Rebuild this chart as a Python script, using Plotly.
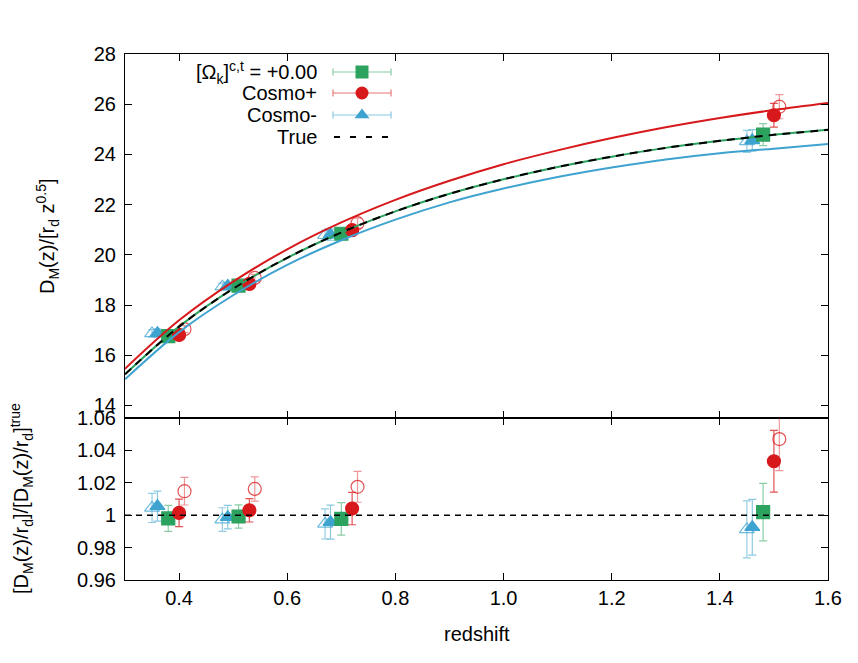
import plotly.graph_objects as go
from plotly.subplots import make_subplots

# model curves: D_M(z)/[r_d z^0.5]
Z_CURVE = [0.3, 0.4, 0.5, 0.6, 0.7, 0.8, 0.9, 1.0, 1.1, 1.2, 1.3, 1.4, 1.5, 1.6]
TRUE_CURVE = [15.24, 17.14, 18.65, 19.88, 20.89, 21.73, 22.43, 23.01, 23.50,
              23.91, 24.26, 24.54, 24.78, 24.98]
FLAT_CURVE = [15.24, 17.14, 18.65, 19.88, 20.89, 21.73, 22.43, 23.01, 23.50,
              23.91, 24.26, 24.54, 24.78, 24.98]
PLUS_CURVE = [15.46, 17.39, 18.93, 20.22, 21.29, 22.19, 22.95, 23.61, 24.16,
              24.65, 25.08, 25.45, 25.77, 26.05]
MINUS_CURVE = [15.04, 16.92, 18.39, 19.60, 20.58, 21.40, 22.09, 22.64, 23.10,
               23.48, 23.80, 24.05, 24.23, 24.41]

# measurements (plotted redshift, slightly shifted per series)
Z_FLAT = [0.38, 0.51, 0.70, 1.48]
Z_PLUS = [0.40, 0.53, 0.72, 1.50]
Z_PLUS_OPEN = [0.41, 0.54, 0.73, 1.51]
Z_MINUS = [0.36, 0.49, 0.68, 1.46]
Z_MINUS_OPEN = [0.35, 0.48, 0.67, 1.45]

# top panel values
DM_FLAT = [16.76, 18.77, 20.84, 24.79]
DM_FLAT_ERR = [0.13, 0.14, 0.21, 0.44]
DM_PLUS = [16.81, 18.84, 20.98, 25.56]
DM_PLUS_ERR = [0.14, 0.14, 0.21, 0.47]
DM_PLUS_OPEN = [17.04, 19.08, 21.26, 25.90]
DM_PLUS_OPEN_ERR = [0.14, 0.14, 0.20, 0.48]
DM_MINUS = [16.88, 18.76, 20.80, 24.56]
DM_MINUS_ERR = [0.16, 0.14, 0.22, 0.43]
DM_MINUS_OPEN = [16.87, 18.73, 20.78, 24.52]
DM_MINUS_OPEN_ERR = [0.15, 0.14, 0.19, 0.44]

# bottom panel ratios to truth
R_FLAT = [0.998, 0.9992, 0.9977, 1.0019]
R_FLAT_ERR = [0.008, 0.0072, 0.010, 0.0177]
R_PLUS = [1.0014, 1.003, 1.0041, 1.0333]
R_PLUS_ERR = [0.0085, 0.0072, 0.010, 0.019]
R_PLUS_OPEN = [1.0148, 1.0162, 1.0175, 1.047]
R_PLUS_OPEN_ERR = [0.0085, 0.0075, 0.0095, 0.0195]
R_MINUS = [1.0056, 0.9988, 0.9957, 0.9926]
R_MINUS_ERR = [0.0093, 0.0072, 0.0105, 0.0172]
R_MINUS_OPEN = [1.0045, 0.9973, 0.9946, 0.9912]
R_MINUS_OPEN_ERR = [0.009, 0.0073, 0.0093, 0.0176]
Z_UNITY = [0.3, 1.6]
R_UNITY = [1.0, 1.0]

LEGEND_LABELS = ["[Ω<sub>k</sub>]<sup>c,t</sup> = +0.00", "Cosmo+", "Cosmo-", "True"]

GREEN = "#2ca25f"
RED = "#d7191c"
BLUE = "#3ea3cf"
FONT = "Liberation Sans, Arial, sans-serif"
FS = 20

fig = make_subplots(rows=2, cols=1, shared_xaxes=True,
                    row_heights=[0.692, 0.308], vertical_spacing=0)


def pts(x, y, err, color, symbol, ecolor, row):
    fig.add_trace(go.Scatter(
        x=x, y=y, mode="markers",
        marker=dict(symbol=symbol, size=13, color=color,
                    line=dict(width=1.2, color=color)),
        error_y=dict(type="data", array=err, color=ecolor, thickness=1.2, width=4),
        showlegend=False, hoverinfo="skip",
    ), row=row, col=1)


# open (shifted) markers first, then filled
series = [
    (Z_MINUS_OPEN, DM_MINUS_OPEN, DM_MINUS_OPEN_ERR, R_MINUS_OPEN, R_MINUS_OPEN_ERR,
     "rgba(62,163,207,0.75)", "triangle-up-open", "rgba(62,163,207,0.55)"),
    (Z_PLUS_OPEN, DM_PLUS_OPEN, DM_PLUS_OPEN_ERR, R_PLUS_OPEN, R_PLUS_OPEN_ERR,
     "rgba(215,25,28,0.75)", "circle-open", "rgba(215,25,28,0.45)"),
    (Z_MINUS, DM_MINUS, DM_MINUS_ERR, R_MINUS, R_MINUS_ERR,
     BLUE, "triangle-up", "rgba(62,163,207,0.6)"),
    (Z_FLAT, DM_FLAT, DM_FLAT_ERR, R_FLAT, R_FLAT_ERR,
     GREEN, "square", "rgba(44,162,95,0.55)"),
    (Z_PLUS, DM_PLUS, DM_PLUS_ERR, R_PLUS, R_PLUS_ERR,
     RED, "circle", "rgba(215,25,28,0.75)"),
]
for z, dm, dme, r, re, col, sym, ecol in series:
    pts(z, dm, dme, col, sym, ecol, 1)
    pts(z, r, re, col, sym, ecol, 2)

# curves on top
for y, col in [(FLAT_CURVE, GREEN), (PLUS_CURVE, RED), (MINUS_CURVE, BLUE)]:
    fig.add_trace(go.Scatter(x=Z_CURVE, y=y, mode="lines", line_shape="spline",
                             line=dict(color=col, width=2),
                             showlegend=False, hoverinfo="skip"), row=1, col=1)
fig.add_trace(go.Scatter(x=Z_CURVE, y=TRUE_CURVE, mode="lines", line_shape="spline",
                         line=dict(color="black", width=2, dash="8px,6px"),
                         showlegend=False, hoverinfo="skip"), row=1, col=1)
fig.add_trace(go.Scatter(x=Z_UNITY, y=R_UNITY, mode="lines",
                         line=dict(color="black", width=1.5, dash="6px,5px"),
                         showlegend=False, hoverinfo="skip"), row=2, col=1)

# gnuplot-style key: text on the left, sample on the right (pixel-coordinate overlay)
key_rows = [72, 93, 115, 137]
key_styles = [(GREEN, "square", "rgba(44,162,95,0.55)"),
              (RED, "circle", "rgba(215,25,28,0.6)"),
              (BLUE, "triangle-up", "rgba(62,163,207,0.6)")]
for yk, (col, sym, ecol) in zip(key_rows, key_styles):
    fig.add_trace(go.Scatter(
        x=[362], y=[yk], mode="markers", xaxis="x3", yaxis="y3",
        marker=dict(symbol=sym, size=13, color=col),
        error_x=dict(type="constant", value=29, color=ecol, thickness=1.2, width=3.5),
        showlegend=False, hoverinfo="skip"))
fig.add_trace(go.Scatter(x=[334, 391], y=[key_rows[3]] * 2, mode="lines",
                         xaxis="x3", yaxis="y3",
                         line=dict(color="black", width=2, dash="6px,10px"),
                         showlegend=False, hoverinfo="skip"))
for yk, lab in zip(key_rows, LEGEND_LABELS):
    fig.add_annotation(x=319, y=yk, xref="x3", yref="y3", text=lab, showarrow=False,
                       xanchor="right", yanchor="middle",
                       font=dict(family=FONT, size=FS, color="black"))

axis_common = dict(showline=True, linecolor="black", linewidth=1, mirror="allticks",
                   ticks="inside", ticklen=7, tickcolor="black", showgrid=False,
                   zeroline=False, tickfont=dict(family=FONT, size=FS, color="black"))

fig.update_xaxes(range=[0.3, 1.6], tickvals=[0.4, 0.6, 0.8, 1.0, 1.2, 1.4, 1.6],
                 tickformat=".1f", **axis_common)
fig.update_xaxes(showticklabels=False, row=1, col=1)
fig.update_yaxes(range=[13.5, 28], tickvals=[14, 16, 18, 20, 22, 24, 26, 28],
                 ticklabelstandoff=4, **axis_common, row=1, col=1)
fig.update_yaxes(range=[0.96, 1.06], tickvals=[0.96, 0.98, 1.0, 1.02, 1.04, 1.06],
                 ticktext=["0.96", "0.98", "1", "1.02", "1.04", "1.06"],
                 ticklabelstandoff=4, **axis_common, row=2, col=1)

# the page body adds an 8px offset, so margins are shifted to compensate
fig.update_layout(
    width=858, height=663,
    margin=dict(l=117, r=38, t=46, b=91),
    paper_bgcolor="white", plot_bgcolor="rgba(0,0,0,0)",
    font=dict(family=FONT, size=FS, color="black"),
    xaxis3=dict(overlaying="x", range=[125, 828], visible=False, anchor="y3"),
    yaxis3=dict(overlaying="y", range=[418, 54], visible=False, anchor="x3"),
    annotations=list(fig.layout.annotations) + [
        dict(x=0.5, y=-0.103, xref="paper", yref="paper", text="redshift",
             showarrow=False, xanchor="center", yanchor="middle",
             font=dict(family=FONT, size=FS)),
        dict(x=-0.1095, y=0.654, xref="paper", yref="paper", textangle=-90,
             text="D<sub>M</sub>(z)/[r<sub>d</sub> z<sup>0.5</sup>]",
             showarrow=False, xanchor="center", yanchor="middle",
             font=dict(family=FONT, size=FS)),
        dict(x=-0.1465, y=0.154, xref="paper", yref="paper", textangle=-90,
             text="[D<sub>M</sub>(z)/r<sub>d</sub>]/[D<sub>M</sub>(z)/r<sub>d</sub>]<sup>true</sup>",
             showarrow=False, xanchor="center", yanchor="middle",
             font=dict(family=FONT, size=FS)),
    ],
)

fig.write_html("out.html")
